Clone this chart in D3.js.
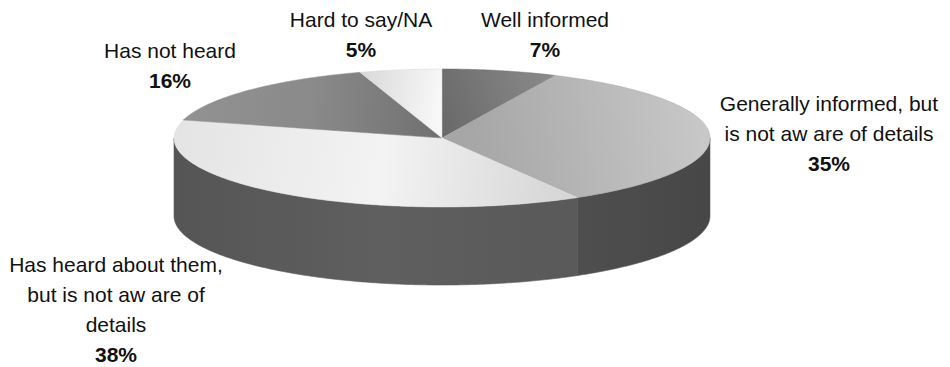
<!DOCTYPE html>
<html>
<head>
<meta charset="utf-8">
<script src="https://cdn.jsdelivr.net/npm/d3@7"></script>
<style>
  html, body { margin: 0; padding: 0; background: #fff; }
  svg { display: block; }
  text { font-family: "Liberation Sans", Arial, sans-serif; font-size: 21px; fill: #111; }
  .pct { font-weight: bold; }
</style>
</head>
<body>
<svg id="chart" width="950" height="367"></svg>
<script>
// Awareness survey answers, clockwise from 12 o'clock
const categories = ["Well informed", "Generally informed", "Has heard about them", "Has not heard", "Hard to say/NA"];
const values = [7, 35, 38, 16, 5];
const labelLines = [
  ["Well informed"],
  ["Generally informed, but", "is not aw are of details"],
  ["Has heard about them,", "but is not aw are of", "details"],
  ["Has not heard"],
  ["Hard to say/NA"]
];
const percentLabels = ["7%", "35%", "38%", "16%", "5%"];

// Geometry of the tilted disc
const cx = 442, cy = 138, rx = 268, ry = 69, depth = 78;
const labelAnchors = [
  { x: 545, y: 27 },
  { x: 829, y: 111 },
  { x: 116, y: 272 },
  { x: 170, y: 58 },
  { x: 361, y: 27 }
];
const lineGap = 30;

// Top face gradients [x1,y1,x2,y2, stops]
const topShades = [
  { g: [442, 120, 560, 80], stops: ["#6a6a6a", "#8c8c8c"] },
  { g: [470, 150, 710, 110], stops: ["#a6a6a6", "#c9c9c9"] },
  { g: [175, 140, 590, 190], stops: ["#e4e4e4", "#f3f3f3", "#d2d2d2"] },
  { g: [180, 110, 440, 130], stops: ["#929292", "#8a8a8a", "#707070"] },
  { g: [360, 80, 442, 90], stops: ["#d9d9d9", "#f8f8f8"] }
];
const sideShades = [
  null,
  { g: [583, 0, 710, 0], stops: ["#4e4e4e", "#474747"] },
  { g: [174, 0, 583, 0], stops: ["#555555", "#5f5f5f", "#595959"] },
  null, null
];

const svg = d3.select("#chart");
const defs = svg.append("defs");

function addGradient(id, spec) {
  const [x1, y1, x2, y2] = spec.g;
  const lg = defs.append("linearGradient").attr("id", id)
    .attr("gradientUnits", "userSpaceOnUse")
    .attr("x1", x1).attr("y1", y1).attr("x2", x2).attr("y2", y2);
  spec.stops.forEach((c, i) => {
    lg.append("stop").attr("offset", i / (spec.stops.length - 1)).attr("stop-color", c);
  });
  return `url(#${id})`;
}

const pie = d3.pie().sort(null).value(d => d).startAngle(0).endAngle(2 * Math.PI);
const arcs = pie(values);

// Point on the ellipse for a pie angle (0 = top, clockwise)
const px = a => cx + rx * Math.sin(a);
const py = (a, dy = 0) => cy - ry * Math.cos(a) + dy;

function sampleAngles(a0, a1) {
  const n = Math.max(2, Math.ceil((a1 - a0) / 0.01));
  return d3.range(n + 1).map(i => a0 + (a1 - a0) * i / n);
}

function topPath(d) {
  const p = d3.path();
  p.moveTo(cx, cy);
  sampleAngles(d.startAngle, d.endAngle).forEach(a => p.lineTo(px(a), py(a)));
  p.closePath();
  return p.toString();
}

function sidePath(d) {
  const a0 = Math.max(d.startAngle, Math.PI / 2);
  const a1 = Math.min(d.endAngle, 3 * Math.PI / 2);
  if (a1 <= a0) return null;
  const p = d3.path();
  const angs = sampleAngles(a0, a1);
  angs.forEach((a, i) => i ? p.lineTo(px(a), py(a)) : p.moveTo(px(a), py(a)));
  angs.slice().reverse().forEach(a => p.lineTo(px(a), py(a, depth)));
  p.closePath();
  return p.toString();
}

// Side walls
const sides = svg.append("g");
arcs.forEach((d, i) => {
  const path = sidePath(d);
  if (!path) return;
  sides.append("path")
    .attr("d", path)
    .attr("fill", addGradient("side" + i, sideShades[i]))
    .attr("stroke", "#5a5a5a").attr("stroke-width", 0.6);
});

// Top faces
const tops = svg.append("g");
arcs.forEach((d, i) => {
  tops.append("path")
    .attr("d", topPath(d))
    .attr("fill", addGradient("top" + i, topShades[i]))
    .attr("stroke", d3.color(topShades[i].stops[0])).attr("stroke-width", 0.5);
});

// Labels
const labels = svg.append("g");
arcs.forEach((d, i) => {
  const a = labelAnchors[i];
  const t = labels.append("text").attr("text-anchor", "middle");
  labelLines[i].forEach((line, k) => {
    t.append("tspan").attr("x", a.x).attr("y", a.y + k * lineGap).text(line);
  });
  t.append("tspan").attr("class", "pct")
    .attr("x", a.x).attr("y", a.y + labelLines[i].length * lineGap)
    .text(percentLabels[i]);
});
</script>
</body>
</html>
